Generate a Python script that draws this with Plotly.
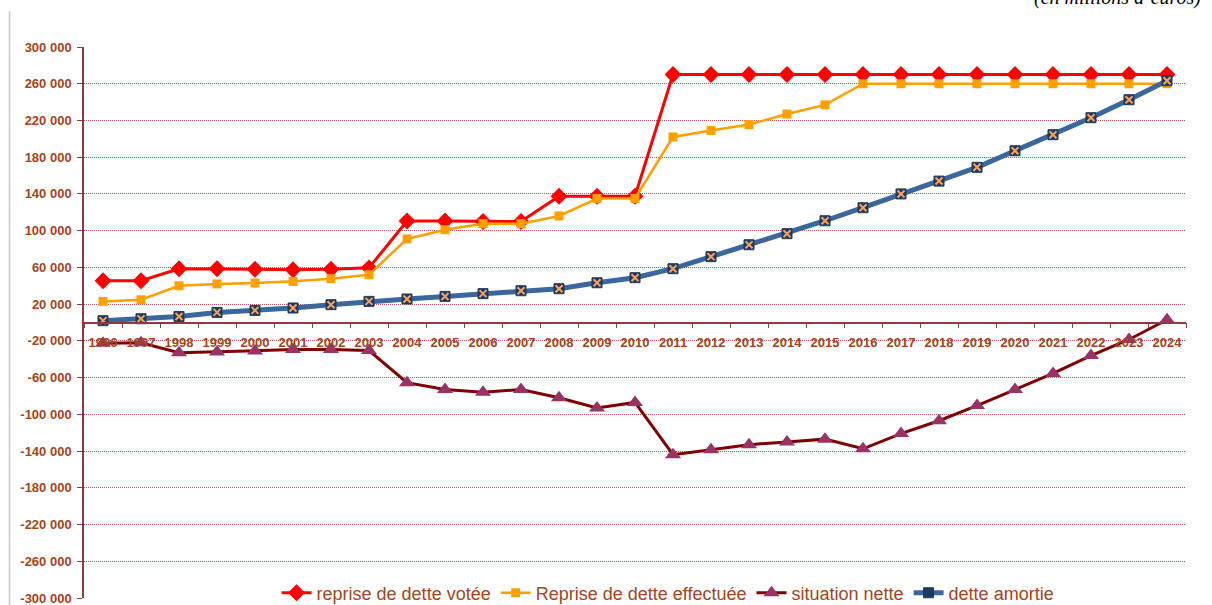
import plotly.graph_objects as go

years = [str(y) for y in range(1996, 2025)]

reprise_votee = [45500, 45500, 58500, 58500, 58000, 57500, 58000, 59500,
                 110500, 110500, 110000, 110000, 137500, 137500, 137500,
                 270000, 270000, 270000, 270000, 270000, 270000, 270000,
                 270000, 270000, 270000, 270000, 270000, 270000, 270000]

reprise_effectuee = [23000, 24800, 40000, 42000, 43000, 44800, 47700, 52000,
                     91000, 101000, 107600, 107600, 116000, 135000, 135000,
                     202000, 209000, 215500, 227000, 237000, 260000, 260000,
                     260000, 260000, 260000, 260000, 260000, 260000, 260000]

situation_nette = [-22500, -22000, -33000, -32000, -31000, -29500, -29500, -30500,
                   -65500, -73000, -76000, -73000, -82000, -93000, -87000,
                   -144000, -138500, -133000, -130000, -127000, -137500, -121000,
                   -107000, -90500, -73000, -55500, -36000, -18500, 3000]

dette_amortie = [2000, 4100, 6600, 11000, 13200, 15800, 19400, 23000,
                 25600, 28400, 31400, 34600, 36800, 43300, 48800,
                 58600, 71700, 84700, 96700, 110800, 125000, 140000,
                 154000, 169000, 187000, 204500, 223000, 242600, 263300]

y_ticks = list(range(-300000, 300001, 40000))
y_ticktext = [("-" if v < 0 else "") + f"{abs(v):,}".replace(",", " ") for v in y_ticks]

BROWN = "#A3451C"
AXIS = "#8E3B3B"
TICKFONT = dict(family="Liberation Sans, Arial, sans-serif", size=13,
                color=BROWN, weight="bold")

fig = go.Figure()

fig.add_trace(go.Scatter(
    x=years, y=reprise_votee, name="reprise de dette votée",
    mode="lines+markers",
    line=dict(color="#FF0000", width=3),
    marker=dict(symbol="diamond", size=13, color="#FF0000"),
))
fig.add_trace(go.Scatter(
    x=years, y=reprise_effectuee, name="Reprise de dette effectuée",
    mode="lines+markers",
    line=dict(color="#FFA000", width=2.5),
    marker=dict(symbol="square", size=9, color="#FFA000"),
))
fig.add_trace(go.Scatter(
    x=years, y=situation_nette, name="situation nette",
    mode="lines+markers",
    line=dict(color="#800000", width=3),
    marker=dict(symbol="triangle-up", size=14, color="#993366"),
))
fig.add_trace(go.Scatter(
    x=years, y=dette_amortie, name="dette amortie",
    mode="lines+markers",
    line=dict(color="#3B679C", width=5),
    marker=dict(symbol="square", size=10, color="#1F3A5F",
                line=dict(color="#1F3A5F", width=1)),
))
fig.add_trace(go.Scatter(
    x=years, y=dette_amortie, name="dette amortie x",
    mode="markers", showlegend=False, hoverinfo="skip",
    marker=dict(symbol="x-thin-open", size=7,
                line=dict(color="#F07A10", width=2)),
))

fig.update_layout(
    width=1212, height=605,
    margin=dict(l=84, r=26, t=47, b=7, autoexpand=False),
    paper_bgcolor="white", plot_bgcolor="white",
    font=dict(family="Liberation Sans, Arial, sans-serif", color=BROWN),
    legend=dict(
        orientation="h", x=0.53, xanchor="center", y=0.009, yanchor="middle",
        bgcolor="white", font=dict(size=18, color=BROWN),
        itemwidth=30, tracegroupgap=0,
    ),
    showlegend=True,
)

fig.update_yaxes(
    range=[-300000, 300000], automargin=False,
    tickvals=y_ticks, ticktext=y_ticktext,
    showgrid=True, gridcolor="#B05050", griddash="1px,1px", gridwidth=1,
    zeroline=False,
    showline=True, linecolor=AXIS, linewidth=1.5,
    ticks="outside", ticklen=5, tickcolor=AXIS,
    tickfont=TICKFONT, ticklabeloverflow="allow", ticklabelstandoff=3,
    domain=[0, 1],
)

fig.update_xaxes(
    type="category", automargin=False,
    range=[-0.5, len(years) - 0.5],
    anchor="free", position=0.5, side="bottom",
    showline=True, linecolor=AXIS, linewidth=1.5,
    showgrid=False, zeroline=False,
    ticks="outside", ticklen=5, tickcolor=AXIS, tickson="boundaries",
    tickangle=0, ticklabelstandoff=8,
    tickfont=TICKFONT,
)

fig.add_annotation(
    text="(en millions d’euros)", xref="paper", yref="paper",
    x=1.015, y=1.09, xanchor="right", yanchor="middle", showarrow=False,
    font=dict(family="Liberation Serif, Times New Roman, serif", size=20,
              color="black", style="italic"),
)

fig.add_shape(
    type="line", xref="paper", yref="paper",
    x0=-0.0676, x1=-0.0676, y0=-0.02, y1=1.065,
    line=dict(color="#C8C8C8", width=1.5),
)

fig.write_html(
    "out.html",
    config={"displayModeBar": False},
    post_script="document.body.style.margin='0px';document.body.style.overflow='hidden';",
)
